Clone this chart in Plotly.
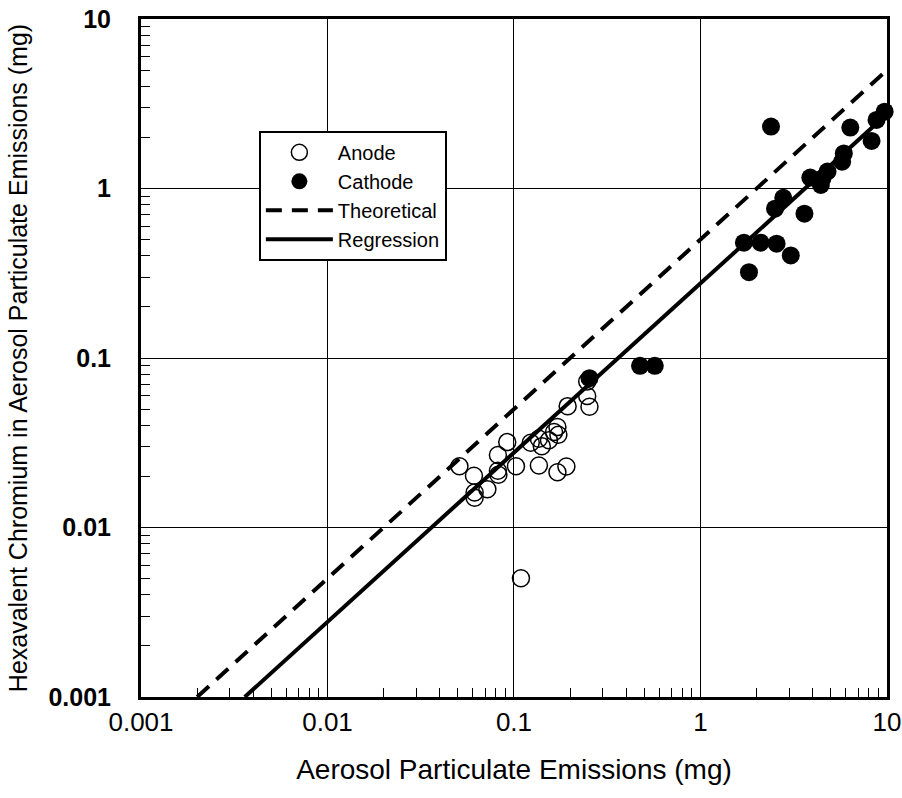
import plotly.graph_objects as go

# ---- data ----
anode_x = [0.051, 0.061, 0.0615, 0.0615, 0.072, 0.082, 0.082, 0.0825, 0.092, 0.1025,
           0.123, 0.136, 0.136, 0.141, 0.154, 0.164, 0.171, 0.173, 0.171, 0.191,
           0.194, 0.247, 0.247, 0.254, 0.109]
anode_y = [0.023, 0.0202, 0.0161, 0.015, 0.0168, 0.0268, 0.0216, 0.0205, 0.0319, 0.023,
           0.0316, 0.0334, 0.0232, 0.0302, 0.0327, 0.0366, 0.0392, 0.0353, 0.0212, 0.0229,
           0.052, 0.0727, 0.0597, 0.0516, 0.00502]

cathode_x = [0.254, 0.474, 0.569, 2.39, 6.36, 9.72, 8.79, 10.1, 8.27, 5.87, 5.75, 4.80,
             4.51, 3.88, 4.42, 2.78, 2.51, 3.61, 1.71, 2.10, 2.56, 3.05, 1.82]
cathode_y = [0.076, 0.090, 0.090, 2.32, 2.29, 2.84, 2.54, 2.32, 1.91, 1.61, 1.44, 1.26,
             1.15, 1.16, 1.05, 0.881, 0.761, 0.711, 0.479, 0.479, 0.473, 0.403, 0.321]

theo_x = [0.002, 10.0]
theo_y = [0.001, 5.0]

reg_x = [0.0036, 10.0]
reg_y = [0.001, 2.75]

tick_vals = [0.001, 0.01, 0.1, 1, 10]
tick_text = ["0.001", "0.01", "0.1", "1", "10"]
decades = [0.001, 0.01, 0.1, 1]
minor_vals = [m * d for d in decades for m in range(2, 10)]

FONT = "Liberation Sans, Arial, sans-serif"

fig = go.Figure()
fig.add_trace(go.Scatter(
    x=anode_x, y=anode_y, mode="markers", name="Anode",
    marker=dict(symbol="circle-open", size=17, color="black", line=dict(width=1.5, color="black")),
    cliponaxis=False))
fig.add_trace(go.Scatter(
    x=cathode_x, y=cathode_y, mode="markers", name="Cathode",
    marker=dict(symbol="circle", size=18, color="black"),
    cliponaxis=False))
fig.add_trace(go.Scatter(
    x=theo_x, y=theo_y, mode="lines", name="Theoretical",
    line=dict(color="black", width=4, dash="16px,10px")))
fig.add_trace(go.Scatter(
    x=reg_x, y=reg_y, mode="lines", name="Regression",
    line=dict(color="black", width=4)))

axis_common = dict(
    type="log",
    tickmode="array", tickvals=tick_vals, ticktext=tick_text,
    showgrid=True, gridcolor="black", gridwidth=1,
    showline=True, linecolor="black", linewidth=3, mirror=True,
    ticks="", zeroline=False, ticklabeloverflow="allow",
    minor=dict(tickmode="array", tickvals=minor_vals, ticks="inside", ticklen=9,
               tickcolor="black", tickwidth=1, showgrid=False),
)

fig.update_layout(
    width=902, height=798,
    margin=dict(l=141, r=15, t=19, b=101),
    paper_bgcolor="white", plot_bgcolor="white",
    font=dict(family=FONT, color="black"),
    showlegend=True,
    legend=dict(
        x=0.158, y=0.835, xanchor="left", yanchor="top",
        bgcolor="white", bordercolor="black", borderwidth=2,
        font=dict(family=FONT, size=20, color="black"),
        tracegroupgap=0, itemwidth=67,
    ),
    xaxis=dict(
        **axis_common,
        range=[-3, 1.0002],
        tickfont=dict(family=FONT, size=26, color="black"),
        ticklabelstandoff=0,
        title=dict(text="Aerosol Particulate Emissions (mg)", standoff=24,
                   font=dict(family=FONT, size=28, color="black")),
        automargin="height+bottom",
    ),
    yaxis=dict(
        **axis_common,
        range=[-3, 1.0002],
        tickfont=dict(family=FONT, size=25, color="black", weight=700),
        ticklabelstandoff=22,
        title=dict(text="Hexavalent Chromium in Aerosol Particulate Emissions (mg)", standoff=14,
                   font=dict(family=FONT, size=25, color="black")),
        automargin="width+left",
    ),
)

fig.write_html("out.html")
